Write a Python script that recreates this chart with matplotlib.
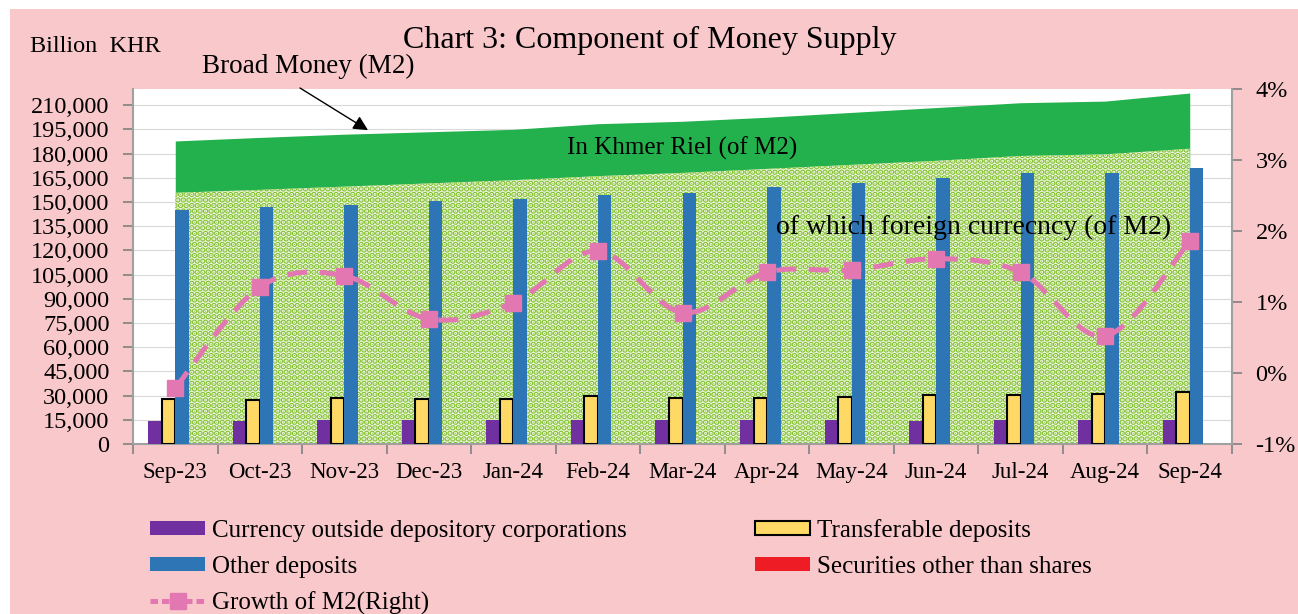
import matplotlib
matplotlib.use("Agg")
import matplotlib.pyplot as plt
import numpy as np
from matplotlib.path import Path
from matplotlib.patches import PathPatch, Rectangle, Patch
from matplotlib.lines import Line2D
from matplotlib.ticker import FuncFormatter, FixedLocator

plt.rcParams['font.family'] = ['Liberation Serif', 'DejaVu Serif']
plt.rcParams['hatch.linewidth'] = 3.0

# ---- data (billion KHR / %) ----
months = ['Sep-23', 'Oct-23', 'Nov-23', 'Dec-23', 'Jan-24', 'Feb-24', 'Mar-24',
          'Apr-24', 'May-24', 'Jun-24', 'Jul-24', 'Aug-24', 'Sep-24']
broad_money = [187800, 190000, 192000, 193500, 195000, 198500, 200000,
               202500, 205500, 208500, 211500, 212500, 217500]
foreign_ccy = [155700, 157500, 159500, 161500, 163500, 166000, 168000,
               170500, 173000, 175500, 178500, 179500, 183000]
currency_out = [14400, 14500, 14600, 14700, 14800, 14800, 14800,
                14900, 14800, 14500, 14600, 14700, 15000]
transferable = [27900, 27300, 28300, 28000, 28000, 29500, 28500,
                28500, 29000, 30500, 30500, 31000, 32000]
other_dep = [145000, 147000, 148000, 150600, 152000, 154000, 155500,
             159000, 162000, 165000, 168000, 168000, 171000]
securities = [0, 0, 0, 0, 0, 0, 0, 0, 0, 0, 0, 0, 0]
growth_m2 = [-0.21, 1.21, 1.37, 0.76, 0.99, 1.72, 0.85,
             1.42, 1.45, 1.61, 1.42, 0.52, 1.86]

PINK_BG = '#F8C8CB'
C_PURPLE = '#7030A0'
C_YELLOW = '#FFD966'
C_BLUE = '#2E75B6'
C_RED = '#EE1C25'
C_GREEN = '#22B14C'
C_DOTS = '#84C232'
C_LINE = '#E377B2'

fig = plt.figure(figsize=(12.98, 6.14), dpi=100, facecolor='white')
fig.patches.append(Rectangle((10 / 1298, 0), 1 - 10 / 1298, 1 - 9 / 614,
                             transform=fig.transFigure, facecolor=PINK_BG,
                             edgecolor='none', zorder=-10))

ax = fig.add_axes([133 / 1298, 1 - 444 / 614, 1099 / 1298, 355 / 614])
ax.set_facecolor('white')
x = np.arange(len(months))

# areas
ax.fill_between(x, 0, broad_money, color=C_GREEN, lw=0, zorder=1)
ax.fill_between(x, 0, foreign_ccy, facecolor='#F2F8E8', edgecolor=C_DOTS,
                hatch='...', lw=0, zorder=2)

# bars
w = 0.16
ax.bar(x - 1.5 * w, currency_out, w, color=C_PURPLE, zorder=3)
ax.bar(x - 0.5 * w, transferable, w, color=C_YELLOW, edgecolor='black', lw=1.5, zorder=3)
ax.bar(x + 0.5 * w, other_dep, w, color=C_BLUE, zorder=3)
ax.bar(x + 1.5 * w, securities, w, color=C_RED, zorder=3)

ax.set_xlim(-0.5, len(months) - 0.5)
ax.set_ylim(0, 220000)
ax.set_yticks(np.arange(0, 210001, 15000))
ax.yaxis.set_major_formatter(FuncFormatter(lambda v, p: '{:,.0f}'.format(v)))
ax.grid(axis='y', color='#D9D9D9', lw=0.8, zorder=0)
ax.set_axisbelow(True)

ax.xaxis.set_major_locator(FixedLocator(np.arange(-0.5, len(months), 1)))
ax.xaxis.set_minor_locator(FixedLocator(x))
ax.xaxis.set_major_formatter(FuncFormatter(lambda v, p: ''))
ax.set_xticks(x, months, minor=True)
ax.tick_params(axis='x', which='major', length=7, color='#808080', width=1.2)
ax.tick_params(axis='x', which='minor', length=0, labelsize=16.5, pad=13)
ax.tick_params(axis='y', length=7, color='#808080', width=1.2, labelsize=17.5, pad=10)
for s in ['top', 'right']:
    ax.spines[s].set_visible(False)
for s in ['left', 'bottom']:
    ax.spines[s].set_color('#A0A0A0')
    ax.spines[s].set_linewidth(1.5)

# growth line on right axis
ax2 = ax.twinx()
ax2.set_ylim(-1, 4)
ax2.set_yticks(np.arange(-1, 4.01, 1))
ax2.yaxis.set_major_formatter(FuncFormatter(lambda v, p: '{:.0f}%'.format(v)))
ax2.tick_params(axis='y', length=7, color='#808080', width=1.2, labelsize=17.5, pad=10)
for s in ['top', 'left', 'bottom']:
    ax2.spines[s].set_visible(False)
ax2.spines['right'].set_color('#A0A0A0')
ax2.spines['right'].set_linewidth(1.5)

# smoothed line (Bezier through the data points, like Excel's smoothed line)
gy = np.array(growth_m2, dtype=float)
xf = x.astype(float)
verts = [(xf[0], gy[0])]
codes = [Path.MOVETO]
t = 1.0 / 6.0
for i in range(len(xf) - 1):
    x0, y0 = (xf[i - 1], gy[i - 1]) if i > 0 else (xf[i], gy[i])
    x3, y3 = (xf[i + 2], gy[i + 2]) if i + 2 < len(xf) else (xf[i + 1], gy[i + 1])
    c1 = (xf[i] + (xf[i + 1] - x0) * t, gy[i] + (gy[i + 1] - y0) * t)
    c2 = (xf[i + 1] - (x3 - xf[i]) * t, gy[i + 1] - (y3 - gy[i]) * t)
    verts += [c1, c2, (xf[i + 1], gy[i + 1])]
    codes += [Path.CURVE4] * 3
ax2.add_patch(PathPatch(Path(verts, codes), facecolor='none', edgecolor=C_LINE,
                        lw=3.6, linestyle=(0, (4, 2.5)), zorder=5))
ax2.plot(x, growth_m2, linestyle='none', marker='s', markersize=11,
         color=C_LINE, zorder=6)

# texts
fig.text(650 / 1298, 1 - 40 / 614, 'Chart 3: Component of Money Supply',
         ha='center', va='center', fontsize=23)
fig.text(30 / 1298, 1 - 47 / 614, 'Billion  KHR', ha='left', va='center', fontsize=17.5)
fig.text(308 / 1298, 1 - 66 / 614, 'Broad Money (M2)', ha='center', va='center', fontsize=19.5)
ax.annotate('', xy=(2.28, 194500), xycoords='data',
            xytext=(300 / 1298, 1 - 88 / 614), textcoords='figure fraction',
            arrowprops=dict(arrowstyle='-|>', color='black', lw=1.0,
                            mutation_scale=22, shrinkA=0, shrinkB=0),
            zorder=7)
ax.text(6.0, 183500, 'In Khmer Riel (of M2)', ha='center', va='center',
        fontsize=18, zorder=7)
ax.text(9.44, 134500, 'of which foreign currecncy (of M2)', ha='center',
        va='center', fontsize=20, zorder=7)

# legend
handles = [
    Patch(facecolor=C_PURPLE, edgecolor='none'),
    Patch(facecolor=C_BLUE, edgecolor='none'),
    Line2D([], [], color=C_LINE, lw=3.6, linestyle=(0, (1.5, 0.8)), marker='s', markersize=11),
    Patch(facecolor=C_YELLOW, edgecolor='black', lw=1.5),
    Patch(facecolor=C_RED, edgecolor='none'),
]
labels = ['Currency outside depository corporations', 'Other deposits',
          'Growth of M2(Right)', 'Transferable deposits', 'Securities other than shares']
fig.legend(handles, labels, loc='upper left',
           bbox_to_anchor=(140 / 1298, 1 - 509 / 614), ncol=2, frameon=False,
           fontsize=18, handlelength=2.2, handleheight=0.5, handletextpad=0.3,
           columnspacing=5.1, labelspacing=0.55, borderaxespad=0)

fig.savefig('out.png', dpi=100, facecolor=fig.get_facecolor())
